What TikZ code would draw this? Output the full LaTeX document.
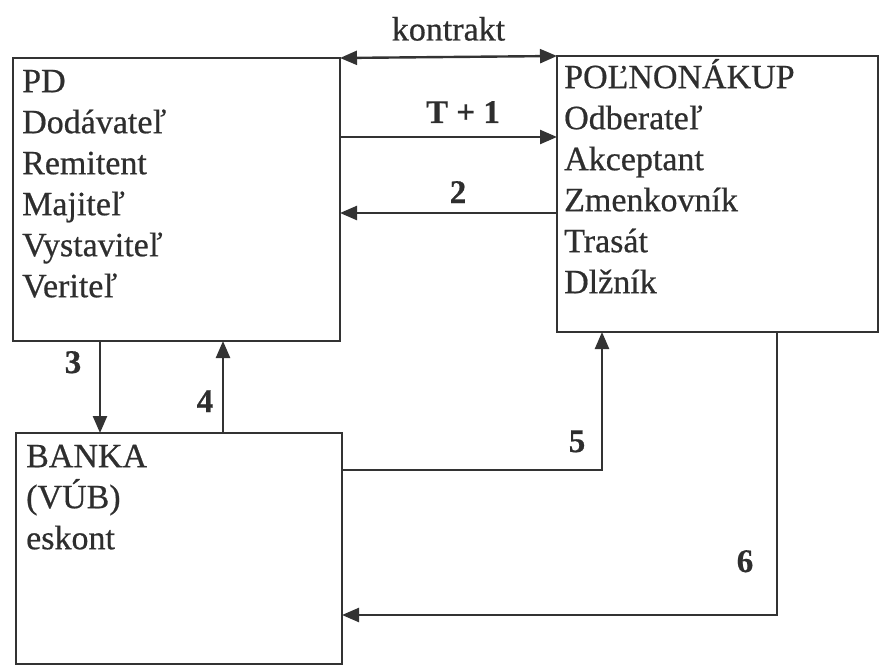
\documentclass[tikz,border=0pt]{standalone}
\usepackage{fontspec}
\setmainfont[FakeBold=0.6]{Liberation Serif}
\usetikzlibrary{arrows.meta,calc}
\definecolor{ink}{HTML}{333333}
\definecolor{txtink}{HTML}{2e2e2e}
\begin{document}
\begin{tikzpicture}[x=1pt,y=-1pt,
  box/.style={draw=ink, line width=2.6pt, inner sep=0pt, outer sep=0pt, anchor=north west},
  txt/.style={anchor=north west, inner sep=0pt, align=left, font=\fontsize{34}{41}\selectfont, text=txtink},
  lab/.style={anchor=base, inner sep=0pt, font=\fontsize{33}{40}\selectfont\bfseries, text=txtink},
  tip/.tip={Triangle[length=17pt,width=14pt]},
  arr/.style={draw=ink, line width=2.4pt, -tip},
]
\useasboundingbox (0,0) rectangle (880,666);

% boxes
\node[box, minimum width=327pt, minimum height=283pt] (pd) at (13,58) {};
\node[box, minimum width=321pt, minimum height=276pt] (pol) at (557,56) {};
\node[box, minimum width=326pt, minimum height=231pt] (banka) at (16,433) {};

% box texts
\node[txt] (pdt) at (22,60) {\rule{0pt}{32pt}PD\\Dodávateľ\\Remitent\\Majiteľ\\Vystaviteľ\\Veriteľ};
\node[txt] (polt) at (564,56) {\rule{0pt}{32pt}POĽNONÁKUP\\Odberateľ\\Akceptant\\Zmenkovník\\Trasát\\Dlžník};
\node[txt] (bankat) at (26,435) {\rule{0pt}{32pt}BANKA\\(VÚB)\\eskont};

% kontrakt
\draw[draw=ink, line width=2.4pt, tip-tip] (pd.north east) -- node[above=15pt, inner sep=0pt, font=\fontsize{34}{41}\selectfont, text=txtink] (kon) {kontrakt} (pol.north west);

% T+1
\coordinate (t1) at ($(pd.north east)+(0,79)$);
\draw[arr] (t1) -- (t1 -| pol.west);
\node[lab] (lt1) at (463,123) {T + 1};

% 2
\coordinate (t2) at ($(pol.north west)+(0,157)$);
\draw[arr] (t2) -- (t2 -| pd.east);
\node[lab] (l2) at (458,203) {2};

% 3
\coordinate (a3) at ($(pd.south west)+(87,0)$);
\draw[arr] (a3) -- (a3 |- banka.north);
\node[lab] (l3) at (73,373) {3};

% 4
\coordinate (a4) at ($(banka.north west)+(207,0)$);
\draw[arr] (a4) -- (a4 |- pd.south);
\node[lab] (l4) at (205,412) {4};

% 5
\coordinate (a5) at ($(banka.north east)+(0,37)$);
\coordinate (b5) at ($(pol.south west)+(45,0)$);
\draw[arr] (a5) -| (b5);
\node[lab] (l5) at (577,452) {5};

% 6
\coordinate (b6) at ($(pol.south west)+(220,0)$);
\coordinate (a6) at ($(banka.south east)+(0,-49)$);
\draw[arr] (b6) |- (a6);
\node[lab] (l6) at (745,572) {6};
\end{tikzpicture}
\end{document}
